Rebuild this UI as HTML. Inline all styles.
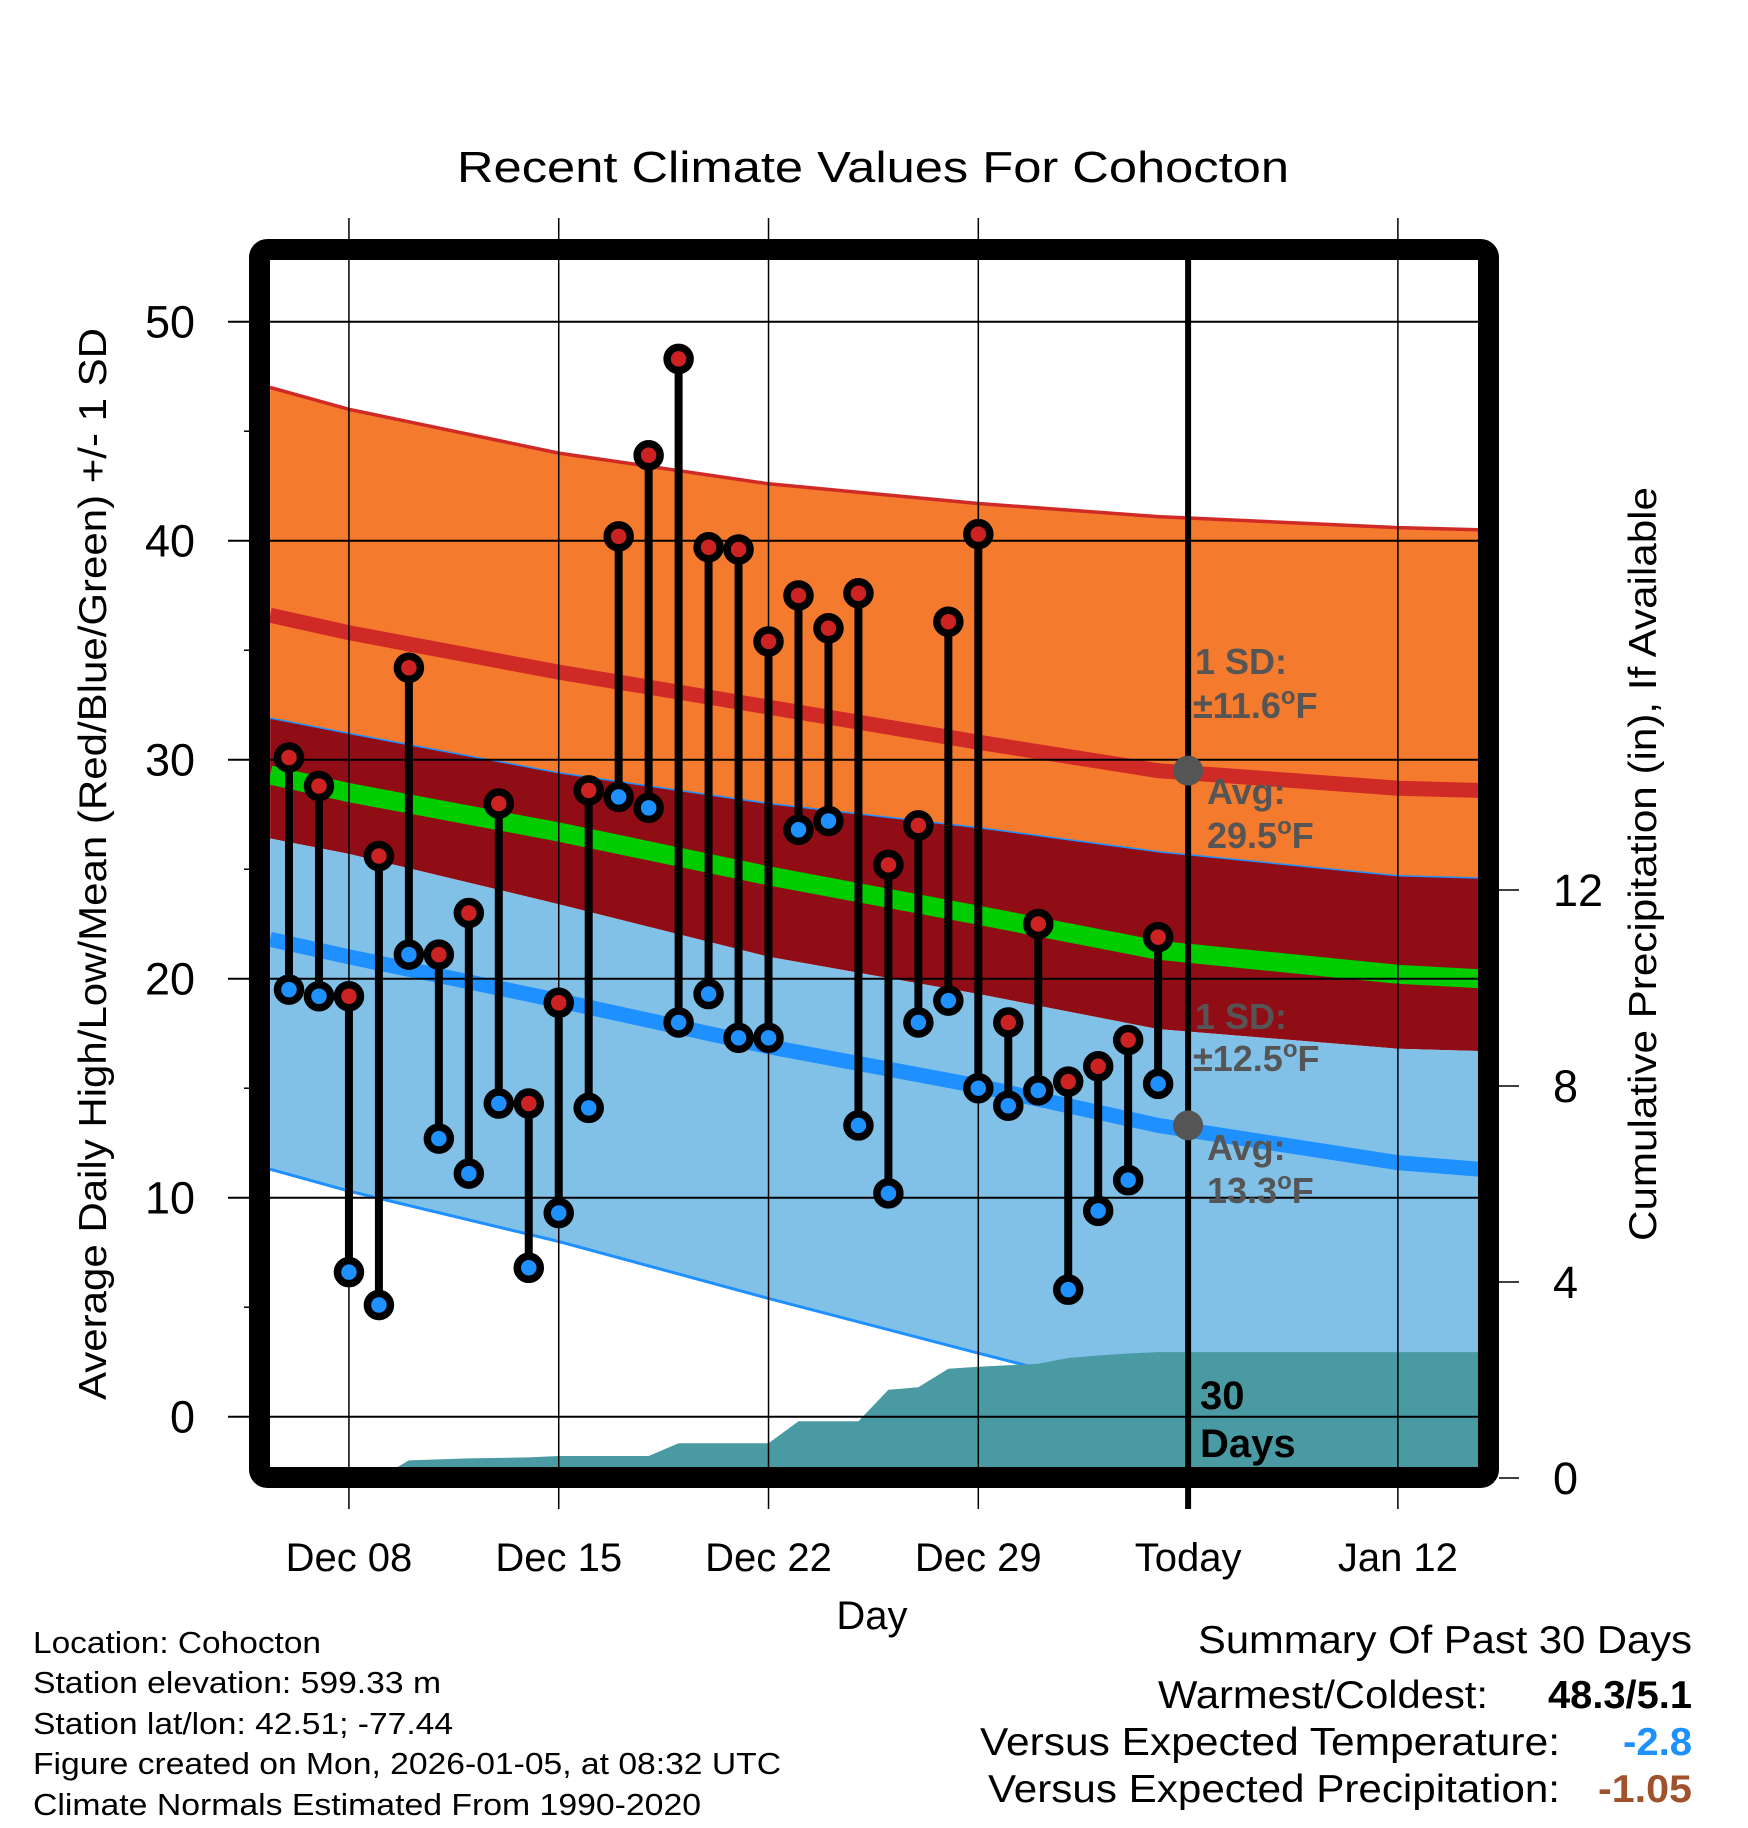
<!DOCTYPE html>
<html><head><meta charset="utf-8"><title>Recent Climate Values For Cohocton</title>
<style>html,body{margin:0;padding:0;background:#fff}svg{display:block;font-family:"Liberation Sans",Arial,sans-serif}</style>
</head><body>
<svg id="chart" width="1748" height="1828" viewBox="0 0 1748 1828" xmlns="http://www.w3.org/2000/svg">
<defs><clipPath id="plotclip"><rect x="270" y="260" width="1208" height="1208"/></clipPath></defs>
<text x="873" y="182" text-anchor="middle" font-size="44" textLength="832" lengthAdjust="spacingAndGlyphs">Recent Climate Values For Cohocton</text>
<g id="bands" clip-path="url(#plotclip)"></g>
<g id="precip" clip-path="url(#plotclip)"></g>
<g id="grid"></g>
<g id="marks"></g>
<g id="annot"></g>
<rect x="259.5" y="249.5" width="1229" height="1228" rx="8" fill="none" stroke="#000" stroke-width="21"/>
<g id="axes"></g>
<text transform="translate(106,864) rotate(-90)" text-anchor="middle" font-size="39" textLength="1072" lengthAdjust="spacingAndGlyphs">Average Daily High/Low/Mean (Red/Blue/Green) +/- 1 SD</text>
<text transform="translate(1656,864) rotate(-90)" text-anchor="middle" font-size="39" textLength="754" lengthAdjust="spacingAndGlyphs">Cumulative Precipitation (in), If Available</text>
<text x="872" y="1629" text-anchor="middle" font-size="40">Day</text>
<g font-size="31">
<text x="33" y="1653" textLength="288" lengthAdjust="spacingAndGlyphs">Location: Cohocton</text>
<text x="33" y="1693" textLength="408" lengthAdjust="spacingAndGlyphs">Station elevation: 599.33 m</text>
<text x="33" y="1734" textLength="420" lengthAdjust="spacingAndGlyphs">Station lat/lon: 42.51; -77.44</text>
<text x="33" y="1774" textLength="748" lengthAdjust="spacingAndGlyphs">Figure created on Mon, 2026-01-05, at 08:32 UTC</text>
<text x="33" y="1815" textLength="668" lengthAdjust="spacingAndGlyphs">Climate Normals Estimated From 1990-2020</text>
</g>
<g font-size="39">
<text x="1692" y="1653" text-anchor="end" textLength="494" lengthAdjust="spacingAndGlyphs">Summary Of Past 30 Days</text>
<text x="1488" y="1708" text-anchor="end" textLength="330" lengthAdjust="spacingAndGlyphs">Warmest/Coldest:</text>
<text x="1692" y="1708" text-anchor="end" font-weight="bold" textLength="144" lengthAdjust="spacingAndGlyphs">48.3/5.1</text>
<text x="1560" y="1755" text-anchor="end" textLength="580" lengthAdjust="spacingAndGlyphs">Versus Expected Temperature:</text>
<text x="1692" y="1755" text-anchor="end" font-weight="bold" fill="#1E90FF" textLength="69" lengthAdjust="spacingAndGlyphs">-2.8</text>
<text x="1560" y="1802" text-anchor="end" textLength="572" lengthAdjust="spacingAndGlyphs">Versus Expected Precipitation:</text>
<text x="1692" y="1802" text-anchor="end" font-weight="bold" fill="#A0522D" textLength="94" lengthAdjust="spacingAndGlyphs">-1.05</text>
</g>
</svg>
<script>
var NS='http://www.w3.org/2000/svg';
// daily observations, day 0 = Dec 06
var highs=[30.1,28.8,19.2,25.6,34.2,21.1,23.0,28.0,14.3,18.9,28.6,40.2,43.9,48.3,39.7,39.6,35.4,37.5,36.0,37.6,25.2,27.0,36.3,40.3,18.0,22.5,15.3,16.0,17.2,21.9];
var lows=[19.5,19.2,6.6,5.1,21.1,12.7,11.1,14.3,6.8,9.3,14.1,28.3,27.8,18.0,19.3,17.3,17.3,26.8,27.2,13.3,10.2,18.0,19.0,15.0,14.2,14.9,5.8,9.4,10.8,15.2];
var precipCum=[0,0,0,0,0.36,0.38,0.40,0.41,0.42,0.45,0.45,0.45,0.45,0.71,0.71,0.71,0.71,1.16,1.16,1.16,1.80,1.85,2.23,2.27,2.30,2.33,2.45,2.50,2.54,2.57];
// climate normals sampled at day offsets
var normDays=[-0.63,2,9,16,23,29,37,39.7];
var highPlusSD=[47.0,46.0,44.0,42.6,41.7,41.1,40.6,40.5];
var highMean=[36.6,35.8,34.0,32.4,30.8,29.5,28.7,28.6];
var highMinusSD=[31.9,31.2,29.4,28.0,26.9,25.8,24.7,24.6];
var meanNorm=[29.3,28.5,26.7,24.7,22.9,21.3,20.2,20.0];
var lowPlusSD=[26.4,25.7,23.4,21.0,19.3,17.7,16.8,16.7];
var lowMean=[21.8,21.0,19.0,16.9,15.1,13.3,11.6,11.3];
var lowMinusSD=[11.3,10.3,8.0,5.4,2.9,0.8,-0.8,-1.2];
var yTicks=[0,10,20,30,40,50];
var yMinor=[5,15,25,35,45];
var y2Ticks=[0,4,8,12];
var xTickDays=[2,9,16,23,30,37];
var xTickLabels=['Dec 08','Dec 15','Dec 22','Dec 29','Today','Jan 12'];
var todayDay=30;
var todayHighAvg=29.5, todayLowAvg=13.3;

function X(d){return 289+d*29.97;}
function Y(v){return 1416.7-v*21.9;}
function Y2(v){return 1478-v*49;}
function el(tag,attrs,parent){var e=document.createElementNS(NS,tag);for(var k in attrs)e.setAttribute(k,attrs[k]);parent.appendChild(e);return e;}
function pts(days,vals,fy){return days.map(function(d,i){return X(d).toFixed(1)+','+fy(vals[i]).toFixed(1);});}
function band(top,bot){var a=pts(normDays,top,Y),b=pts(normDays,bot,Y).reverse();return a.concat(b).join(' ');}

var gb=document.getElementById('bands');
var e;
e=el('polygon',{points:band(highPlusSD,highMinusSD),fill:'#F47A2D'},gb);


e=el('polygon',{points:band(highMinusSD,lowPlusSD),fill:'#910D15'},gb);


e=el('polygon',{points:band(lowPlusSD,lowMinusSD),fill:'#82C1E7'},gb);


e=el('polyline',{points:pts(normDays,highPlusSD,Y).join(' '),fill:'none',stroke:'#D02A27','stroke-width':3.5},gb);


e=el('polyline',{points:pts(normDays,highMinusSD,Y).join(' '),fill:'none',stroke:'#1E90FF','stroke-width':1.5},gb);


e=el('polyline',{points:pts(normDays,lowMinusSD,Y).join(' '),fill:'none',stroke:'#1E90FF','stroke-width':3},gb);


e=el('polyline',{points:pts(normDays,highMean,Y).join(' '),fill:'none',stroke:'#D02A27','stroke-width':15},gb);


e=el('polyline',{points:pts(normDays,meanNorm,Y).join(' '),fill:'none',stroke:'#00CC00','stroke-width':19},gb);


e=el('polyline',{points:pts(normDays,lowMean,Y).join(' '),fill:'none',stroke:'#1E90FF','stroke-width':15},gb);



// precipitation area
var gp=document.getElementById('precip');
var pp=precipCum.map(function(v,i){return X(i).toFixed(1)+','+Y2(v).toFixed(1);});
var last=precipCum[precipCum.length-1];
pp.unshift(X(-1)+','+Y2(0));
pp.push('1490,'+Y2(last).toFixed(1));
pp.push('1490,'+Y2(0));
e=el('polygon',{points:pp.join(' '),fill:'#4A9AA3'},gp);



// grid
var gg=document.getElementById('grid');
yTicks.forEach(function(v){
  e=el('line',{x1:228,x2:1478,y1:Y(v),y2:Y(v),stroke:'#000','stroke-width':2},gg);
  
  
});
yMinor.forEach(function(v){
  e=el('line',{x1:244,x2:252,y1:Y(v),y2:Y(v),stroke:'#000','stroke-width':1.5},gg);
  
  
});
xTickDays.forEach(function(d,i){
  var isToday=(d===todayDay);
  e=el('line',{x1:X(d),x2:X(d),y1:isToday?250:218,y2:1509,stroke:'#000','stroke-width':isToday?6:1.5},gg);
  
  
});

// stems and dots
var gm=document.getElementById('marks');
highs.forEach(function(h,i){
  e=el('line',{x1:X(i),x2:X(i),y1:Y(h),y2:Y(lows[i]),stroke:'#000','stroke-width':8},gm);
  
  
});
highs.forEach(function(h,i){
  e=el('circle',{cx:X(i),cy:Y(lows[i]),r:11.5,fill:'#1E90FF',stroke:'#000','stroke-width':7.5},gm);
  
  
  e=el('circle',{cx:X(i),cy:Y(h),r:11.5,fill:'#CC2222',stroke:'#000','stroke-width':7.5},gm);
  
  
});

// annotations
var ga=document.getElementById('annot');
function t(x,y,s,name,extra,parent){var n=el('text',Object.assign({x:x,y:y},extra||{}),parent);n.textContent=s;return n;}
e=el('circle',{cx:X(todayDay),cy:Y(todayHighAvg),r:15,fill:'#555'},ga);


e=el('circle',{cx:X(todayDay),cy:Y(todayLowAvg),r:15,fill:'#555'},ga);


var A={'font-size':36,'font-weight':'bold',fill:'#555'};
t(1195,674,'1 SD:','high-sd-label',A,ga);
var s1=t(1193,718,'±11.6','high-sd-value',A,ga);
var sup=el('tspan',{dy:-14,'font-size':24},s1);sup.textContent='o';
var ff=el('tspan',{dy:14},s1);ff.textContent='F';
t(1207,804,'Avg:','high-avg-label',A,ga);
var s2=t(1207,848,'29.5','high-avg-value',A,ga);
sup=el('tspan',{dy:-14,'font-size':24},s2);sup.textContent='o';
ff=el('tspan',{dy:14},s2);ff.textContent='F';
t(1195,1029,'1 SD:','low-sd-label',A,ga);
var s3=t(1193,1071,'±12.5','low-sd-value',A,ga);
sup=el('tspan',{dy:-14,'font-size':24},s3);sup.textContent='o';
ff=el('tspan',{dy:14},s3);ff.textContent='F';
t(1207,1160,'Avg:','low-avg-label',A,ga);
var s4=t(1207,1203,'13.3','low-avg-value',A,ga);
sup=el('tspan',{dy:-14,'font-size':24},s4);sup.textContent='o';
ff=el('tspan',{dy:14},s4);ff.textContent='F';
var B={'font-size':40,'font-weight':'bold',fill:'#000'};
t(1200,1409,'30','days-count-label',B,ga);
t(1200,1457,'Days','days-word-label',B,ga);

// axes labels and ticks
var gx=document.getElementById('axes');
yTicks.forEach(function(v){
  t(195,Y(v)+16,String(v),'y-tick-label',{'font-size':45,'text-anchor':'end'},gx);
});
y2Ticks.forEach(function(v){
  e=el('line',{x1:1499,x2:1519,y1:Y2(v),y2:Y2(v),stroke:'#000','stroke-width':1.5},gx);
  
  
  t(1553,Y2(v)+16,String(v),'y2-tick-label',{'font-size':45},gx);
});
xTickDays.forEach(function(d,i){
  t(X(d),1571,xTickLabels[i],'x-tick-label',{'font-size':40,'text-anchor':'middle'},gx);
});
</script>
</body></html>
